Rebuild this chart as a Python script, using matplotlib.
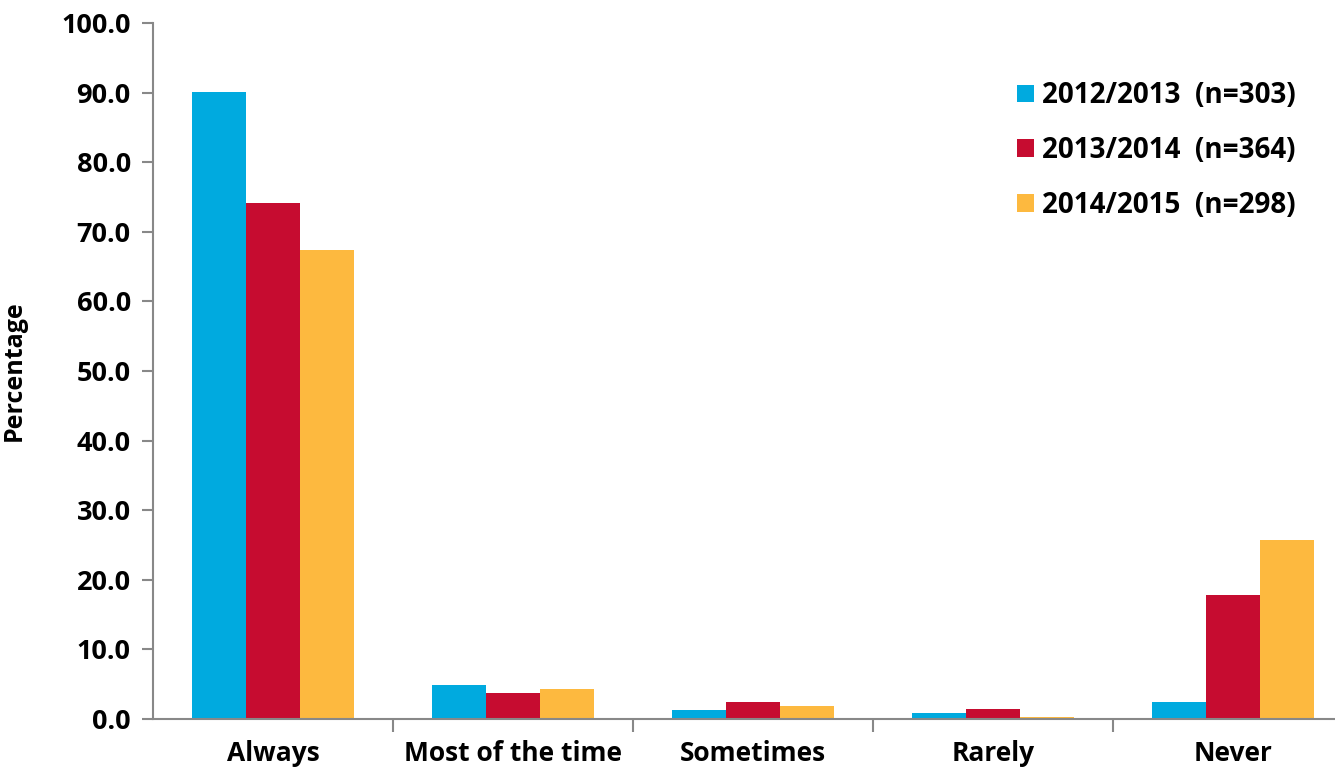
import matplotlib
matplotlib.use("Agg")
import matplotlib.pyplot as plt
import numpy as np

categories = ["Always", "Most of the time", "Sometimes", "Rarely", "Never"]
series_labels = ["2012/2013  (n=303)", "2013/2014  (n=364)", "2014/2015  (n=298)"]
values_2012 = [90.1, 4.9, 1.3, 0.9, 2.5]
values_2013 = [74.1, 3.7, 2.4, 1.5, 17.8]
values_2014 = [67.4, 4.3, 1.9, 0.3, 25.7]
colors = ["#00AADF", "#C60C30", "#FDB93F"]
yticks = np.arange(0, 101, 10)

FONT = ["Open Sans", "DejaVu Sans"]
plt.rcParams["font.family"] = FONT
plt.rcParams["font.weight"] = "bold"

fig = plt.figure(figsize=(13.35, 7.74), dpi=100)
W, H = 1335, 774
ax = fig.add_axes([153 / W, (774 - 719) / H, 1200 / W, (719 - 23) / H])

x = np.arange(len(categories))
bw = 0.225
for i, (vals, lab) in enumerate(zip([values_2012, values_2013, values_2014], series_labels)):
    ax.bar(x + (i - 1) * bw, vals, width=bw, color=colors[i], label=lab)

ax.set_xlim(-0.5, len(categories) - 0.5)
ax.set_ylim(0, 100)
ax.set_yticks(yticks)
ax.set_yticklabels([f"{v:.1f}" for v in yticks], fontsize=19.5, fontweight="bold")

# category labels centered, tick marks between groups
ax.set_xticks(x)
ax.set_xticklabels(categories, fontsize=19, fontweight="bold")
ax.tick_params(axis="x", length=0, pad=15)
ax.set_xticks(np.arange(0.5, len(categories) - 0.5, 1), minor=True)
ax.tick_params(axis="x", which="minor", length=9, width=1.5, color="#888888", direction="out")
ax.tick_params(axis="y", length=8, width=1.5, color="#888888", direction="out", pad=8)

for s in ["top", "right"]:
    ax.spines[s].set_visible(False)
for s in ["left", "bottom"]:
    ax.spines[s].set_color("#888888")
    ax.spines[s].set_linewidth(1.5)

ax.set_ylabel("Percentage", fontsize=18, fontweight="bold")
ax.yaxis.set_label_coords(-126 / 1200, 0.5)

leg = ax.legend(loc="upper left", bbox_to_anchor=((1006 - 153) / 1200, (719 - 70) / 696),
                frameon=False, prop={"family": FONT, "weight": "bold", "size": 20},
                handlelength=0.6, handleheight=0.6, handletextpad=0.3,
                labelspacing=0.93, borderaxespad=0)

fig.savefig("out.png", dpi=100)
